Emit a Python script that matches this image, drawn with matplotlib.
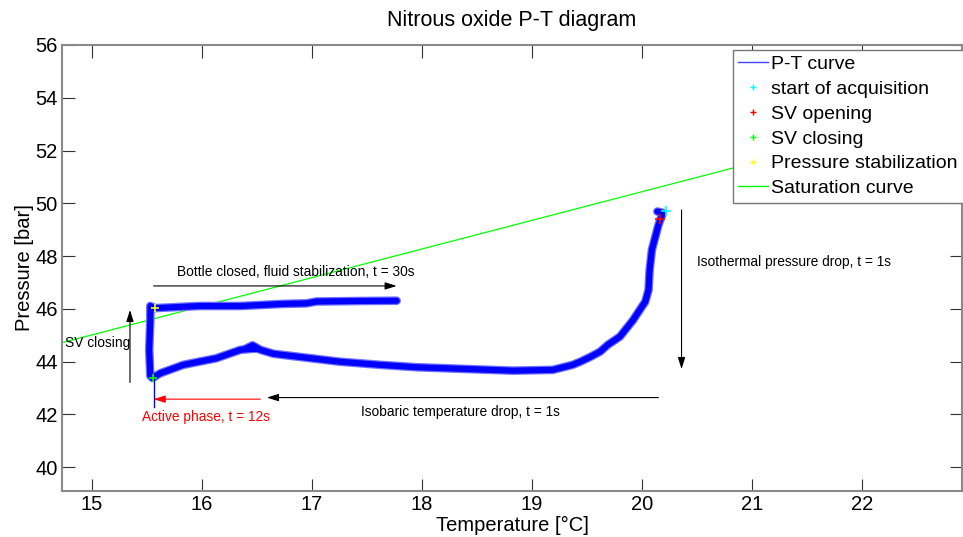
import matplotlib
matplotlib.use("Agg")
import matplotlib.pyplot as plt
from matplotlib.lines import Line2D

plt.rcParams['font.family'] = ['Liberation Sans', 'DejaVu Sans']

# ---- data ----
T_curve = [20.14, 20.19, 20.15, 20.09, 20.07, 20.06, 20.03, 19.98, 19.92, 19.80,
           19.69, 19.62, 19.53, 19.44, 19.37, 19.19, 18.83, 18.22, 17.95, 17.62,
           17.25, 16.89, 16.65, 16.53, 16.46, 16.40, 16.50, 16.35, 16.13, 15.83,
           15.62, 15.55, 15.53, 15.52, 15.53, 15.53, 15.57, 15.98, 16.35, 16.74,
           16.95, 17.04, 17.44, 17.77]
P_curve = [49.69, 49.64, 49.18, 48.23, 47.48, 46.72, 46.27, 45.96, 45.58, 44.95,
           44.64, 44.38, 44.18, 44.00, 43.88, 43.69, 43.66, 43.75, 43.79, 43.88,
           44.00, 44.18, 44.30, 44.45, 44.62, 44.50, 44.50, 44.45, 44.13, 43.88,
           43.56, 43.38, 43.46, 44.45, 45.58, 46.11, 46.03, 46.11, 46.11, 46.19,
           46.21, 46.28, 46.30, 46.31]

T_start, P_start = 20.22, 49.71
T_svopen, P_svopen = 20.16, 49.40
T_svclose, P_svclose = 15.55, 43.40
T_stab, P_stab = 15.57, 46.03

T_sat = [14.70, 16.00, 18.00, 20.00, 22.00, 23.00]
P_sat = [44.69, 46.10, 48.27, 50.44, 52.61, 53.70]

T_marker_line = [15.56, 15.56]
P_marker_line = [43.40, 42.30]

x_ticks = [15, 16, 17, 18, 19, 20, 21, 22]
y_ticks = [40, 42, 44, 46, 48, 50, 52, 54, 56]

legend_labels = ['P-T curve', 'start of acquisition', 'SV opening',
                 'SV closing', 'Pressure stabilization', 'Saturation curve']

# ---- figure ----
W, H = 963, 537
fig = plt.figure(figsize=(W / 100, H / 100), dpi=100)
ax = fig.add_axes([62 / W, 1 - 491 / H, 900 / W, 446 / H])

ax.plot(T_sat, P_sat, color='#00ff00', lw=0.9, zorder=2)
ax.plot(T_curve, P_curve, color='#7070ff', lw=6.2, solid_joinstyle='round',
        solid_capstyle='round', zorder=3)
ax.plot(T_curve, P_curve, color='#0000ff', lw=4.4, solid_joinstyle='round',
        solid_capstyle='round', zorder=3)
ax.plot(T_marker_line, P_marker_line, color='#0000ff', lw=1.0, zorder=3)

ax.plot([T_start], [P_start], '+', color='#00ffff', ms=7, mew=1.2, zorder=4)
ax.plot([T_svopen], [P_svopen], '+', color='#ff0000', ms=7, mew=1.2, zorder=4)
ax.plot([T_svclose], [P_svclose], '+', color='#00ff00', ms=6, mew=1.2, zorder=4)
ax.plot([T_stab], [P_stab], '+', color='#ffff00', ms=6, mew=1.2, zorder=4)

ax.set_xlim(14.727, 22.91)
ax.set_ylim(39.1, 56)
ax.set_xticks(x_ticks)
ax.set_yticks(y_ticks)
ax.tick_params(direction='in', length=9, width=0.8, color='#333333',
               labelsize=14.5, top=True, right=True, pad=3)
ax.tick_params(axis='y', pad=3)
for s in ax.spines.values():
    s.set_color('#8a8a8a')
    s.set_linewidth(1.5)

ax.set_title('Nitrous oxide P-T diagram', fontsize=15.5, pad=14)
ax.set_xlabel('Temperature [°C]', fontsize=14.5, labelpad=1)
ax.set_ylabel('Pressure [bar]', fontsize=14.5, labelpad=1)

# ---- annotations ----
ap = dict(arrowstyle='-|>,head_length=0.7,head_width=0.22', color='black', lw=0.8,
          shrinkA=0, shrinkB=0)
fs = 9.9
ax.annotate('', xy=(17.77, 46.87), xytext=(15.56, 46.87), arrowprops=ap)
ax.text(16.85, 47.38, 'Bottle closed, fluid stabilization, t = 30s', fontsize=fs,
        ha='center', va='center')
ax.annotate('', xy=(15.345, 45.96), xytext=(15.345, 43.21), arrowprops=ap)
ax.text(14.75, 44.72, 'SV closing', fontsize=fs, ha='left', va='center')
ax.annotate('', xy=(20.36, 43.72), xytext=(20.36, 49.75), arrowprops=ap)
ax.text(20.50, 47.79, 'Isothermal pressure drop, t = 1s', fontsize=fs,
        ha='left', va='center')
ax.annotate('', xy=(16.59, 42.64), xytext=(20.15, 42.64), arrowprops=ap)
ax.text(18.35, 42.11, 'Isobaric temperature drop, t = 1s', fontsize=fs,
        ha='center', va='center')
apr = dict(ap, color='red')
ax.annotate('', xy=(15.56, 42.58), xytext=(16.53, 42.58), arrowprops=apr)
ax.text(16.04, 41.92, 'Active phase, t = 12s', fontsize=fs, color='red',
        ha='center', va='center')

# ---- legend ----
handles = [
    Line2D([], [], color='#4444ff', lw=1),
    Line2D([], [], color='#00ffff', marker='+', lw=0, ms=5),
    Line2D([], [], color='#ff0000', marker='+', lw=0, ms=5),
    Line2D([], [], color='#00ff00', marker='+', lw=0, ms=5),
    Line2D([], [], color='#ffff00', marker='+', lw=0, ms=5),
    Line2D([], [], color='#00ff00', lw=1),
]
leg = fig.legend(handles, legend_labels, loc='upper left',
                 bbox_to_anchor=(732.7 / W, 1 - 50.7 / H, 250 / W, 0.001),
                 mode='expand', fontsize=14, frameon=True, fancybox=False,
                 borderaxespad=0, borderpad=0.28, handlelength=1.55,
                 handletextpad=0.15, labelspacing=0.37)
leg.get_frame().set_edgecolor('#777777')
leg.get_frame().set_linewidth(1.0)
leg.get_frame().set_alpha(1)

fig.savefig('out.png', dpi=100)
